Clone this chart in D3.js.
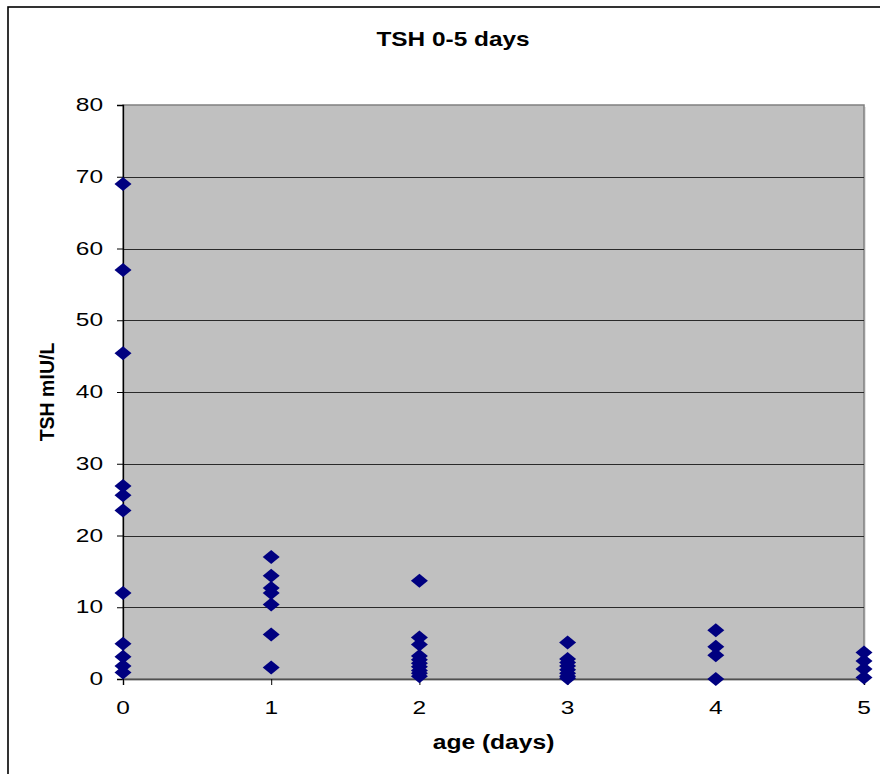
<!DOCTYPE html>
<html>
<head>
<meta charset="utf-8">
<script src="https://cdn.jsdelivr.net/npm/d3@7"></script>
<style>
  html, body { margin: 0; padding: 0; background: #fff; }
  svg { display: block; }
  text { font-family: "Liberation Sans", Arial, sans-serif; fill: #000; }
</style>
</head>
<body>
<svg id="chart" width="880" height="774"></svg>
<script>
// TSH measurements (mIU/L) grouped by age in days
const ages = [0, 1, 2, 3, 4, 5];
const tshDay0 = [69, 57, 45.4, 26.9, 25.6, 23.5, 12, 4.9, 3.1, 1.8, 0.9];
const tshDay1 = [17, 14.4, 12.7, 12, 10.4, 6.2, 1.6];
const tshDay2 = [13.7, 5.8, 4.8, 3.2, 2.7, 2.2, 1.7, 1.2, 0.8, 0.4];
const tshDay3 = [5.1, 2.8, 2.3, 1.8, 1.3, 0.8, 0.4, 0.1];
const tshDay4 = [6.8, 4.5, 3.3, 0];
const tshDay5 = [3.7, 2.5, 1.4, 0.2];
const yTicks = [0, 10, 20, 30, 40, 50, 60, 70, 80];
const xTicks = [0, 1, 2, 3, 4, 5];

const title = "TSH 0-5 days";
const xTitle = "age (days)";
const yTitle = "TSH mIU/L";

const byDay = [tshDay0, tshDay1, tshDay2, tshDay3, tshDay4, tshDay5];
const points = ages.flatMap((age, i) => byDay[i].map(v => ({ age, tsh: v })));

const svg = d3.select("#chart");
const plot = { left: 123, top: 105, right: 864, bottom: 679 };

const x = d3.scaleLinear().domain([0, 5]).range([plot.left, plot.right]);
const y = d3.scaleLinear().domain([0, 80]).range([plot.bottom, plot.top]);

// chart frame
svg.append("rect")
  .attr("x", 8).attr("y", 7)
  .attr("width", 900).attr("height", 800)
  .attr("fill", "#fff").attr("stroke", "#000").attr("stroke-width", 1.6);

// plot area
svg.append("rect")
  .attr("x", plot.left + 2).attr("y", plot.top + 2)
  .attr("width", plot.right - plot.left).attr("height", plot.bottom - plot.top)
  .attr("fill", "#e4e4e4");
svg.append("rect")
  .attr("x", plot.left).attr("y", plot.top)
  .attr("width", plot.right - plot.left).attr("height", plot.bottom - plot.top)
  .attr("fill", "#c0c0c0").attr("stroke", "#808080").attr("stroke-width", 1.5);

// horizontal gridlines
svg.append("g")
  .selectAll("line")
  .data(yTicks.filter(t => t > 0 && t < 80))
  .join("line")
  .attr("x1", plot.left).attr("x2", plot.right)
  .attr("y1", d => Math.round(y(d)) + 0.5).attr("y2", d => Math.round(y(d)) + 0.5)
  .attr("stroke", "#2a2a2a").attr("stroke-width", 1);

// y axis
const yAxis = d3.axisLeft(y).tickValues(yTicks).tickSize(6).tickFormat("");
const yg = svg.append("g").attr("transform", `translate(${plot.left},0)`).call(yAxis);
yg.select(".domain").attr("stroke", "#000").attr("stroke-width", 1.3);
yg.selectAll(".tick line").attr("stroke", "#000");

// y tick labels, horizontally widened
svg.append("g")
  .selectAll("text")
  .data(yTicks)
  .join("text")
  .attr("transform", d => `translate(103,${y(d) + 6}) scale(1.4,1)`)
  .attr("text-anchor", "end")
  .attr("font-size", 17.5)
  .text(d => d);

// x axis
const xAxis = d3.axisBottom(x).tickValues(xTicks).tickSize(6).tickFormat("");
const xg = svg.append("g").attr("transform", `translate(0,${plot.bottom})`).call(xAxis);
xg.select(".domain").attr("stroke", "#505050").attr("stroke-width", 1.6);
xg.selectAll(".tick line").attr("stroke", "#000");

svg.append("g")
  .selectAll("text")
  .data(xTicks)
  .join("text")
  .attr("transform", d => `translate(${x(d)},714) scale(1.4,1)`)
  .attr("text-anchor", "middle")
  .attr("font-size", 17.5)
  .text(d => d);

// titles
svg.append("text")
  .attr("transform", "translate(453,46) scale(1.22,1)")
  .attr("text-anchor", "middle")
  .attr("font-size", 20).attr("font-weight", "bold")
  .text(title);

svg.append("text")
  .attr("transform", `translate(${(plot.left + plot.right) / 2},749) scale(1.23,1)`)
  .attr("text-anchor", "middle")
  .attr("font-size", 20).attr("font-weight", "bold")
  .text(xTitle);

svg.append("text")
  .attr("transform", `translate(54,${(plot.top + plot.bottom) / 2}) rotate(-90)`)
  .attr("text-anchor", "middle")
  .attr("font-size", 19.5).attr("font-weight", "bold")
  .text(yTitle);

// diamond markers
const hw = 8.5, hh = 7;
const diamond = `M0,${-hh}L${hw},0L0,${hh}L${-hw},0Z`;
svg.append("g")
  .selectAll("path")
  .data(points)
  .join("path")
  .attr("d", diamond)
  .attr("transform", d => `translate(${x(d.age)},${y(d.tsh)})`)
  .attr("fill", "#000080");
</script>
</body>
</html>
